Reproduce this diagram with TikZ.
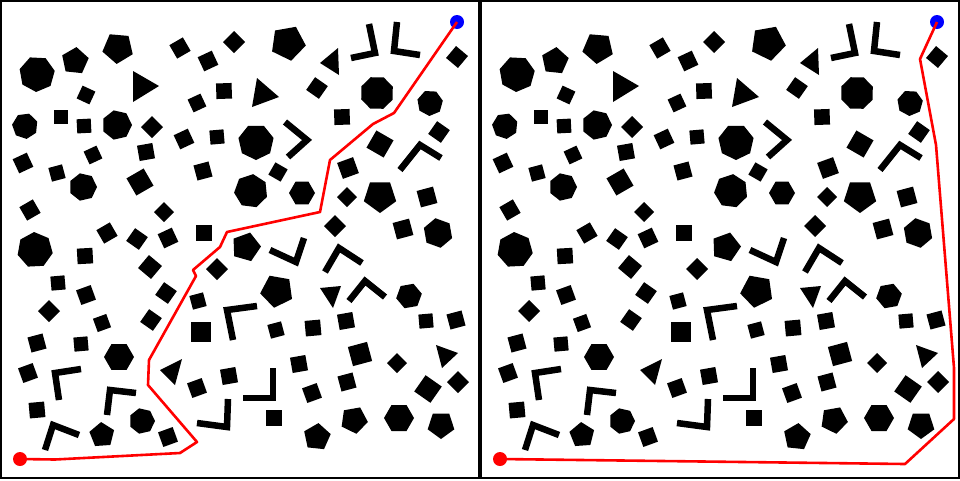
\documentclass[tikz,border=0pt]{standalone}
\usetikzlibrary{calc}
\tikzset{
    obs_fill/.style={fill=black},
    obs_bar/.style={
        draw=black,
        line width=6.5pt,
        line join=miter,
        line cap=butt
    },
    plan_line/.style={
        draw=red,
        line width=2.6pt,
        line join=round
    },
    start_dot/.style={circle, fill=red, inner sep=0pt, minimum size=14pt},
    goal_dot/.style={circle, fill=blue, inner sep=0pt, minimum size=14pt},
    panel_frame/.style={draw=black, line width=1.3pt}
}
% regular polygon: sides, x, y, radius, rotation
\newcommand{\obspoly}[5]{
    \fill[obs_fill, shift={(#2,#3)}, rotate=#5] (0:#4) \foreach \k in {1,...,#1}{ -- ({360/#1*\k}:#4)} -- cycle;
}
\newcommand{\obstri}[3]{\fill[obs_fill] #1 -- #2 -- #3 -- cycle;}
\newcommand{\obsbar}[3]{\draw[obs_bar] #1 -- #2 -- #3;}

\newcommand{\allobstacles}{
    % --- top band ---
    \obspoly{7}{37}{74}{18}{10}
    \obspoly{5}{75}{61}{14}{-60}
    \obspoly{5}{118}{48}{16}{-95}
    \obstri{(133,71)}{(159,86)}{(133,102)}
    \obspoly{4}{86}{95}{10}{20}
    \obspoly{4}{61}{117}{10}{45}
    \obspoly{4}{84}{126}{10}{48}
    \obspoly{7}{117}{125}{15}{0}
    \obspoly{4}{152}{127}{11}{0}
    \obspoly{7}{25}{126}{13}{20}
    \obspoly{4}{180}{48}{11}{75}
    \obspoly{4}{208}{61}{11}{70}
    \obspoly{4}{234}{42}{11}{0}
    \obspoly{5}{288}{43}{18}{-80}
    \obstri{(338,48)}{(320,63)}{(339,75)}
    \obspoly{4}{317}{88}{11}{10}
    \obspoly{4}{224}{91}{11}{47}
    \obstri{(257,78)}{(279,97)}{(252,107)}
    \obspoly{4}{197}{103}{10}{70}
    \obspoly{4}{184}{139}{11}{70}
    \obspoly{4}{217}{137}{10}{50}
    \obspoly{7}{256}{142}{18}{-90}
    \obsbar{(285,122)}{(307,140)}{(288,157)}
    \obspoly{4}{457}{57}{11}{5}
    \obsbar{(369,24)}{(375,53)}{(351,58)}
    \obsbar{(397,22)}{(394,51)}{(420,55)}
    \obspoly{8}{377}{93}{17}{22}
    \obspoly{4}{342}{117}{11}{47}
    \obspoly{7}{430}{103}{13}{10}
    \obspoly{4}{439}{132}{11}{10}
    \obspoly{4}{380}{144}{14}{15}
    \obspoly{4}{348}{168}{12}{65}
    \obsbar{(400,170)}{(420,145)}{(441,158)}
    % --- middle band ---
    \obspoly{4}{23}{163}{11}{70}
    \obspoly{4}{57}{173}{10}{60}
    \obspoly{4}{93}{155}{10}{70}
    \obspoly{4}{146}{152}{11}{55}
    \obspoly{7}{83}{187}{14}{0}
    \obspoly{4}{140}{182}{14}{75}
    \obspoly{4}{30}{210}{11}{75}
    \obspoly{7}{35}{250}{18}{-10}
    \obspoly{4}{107}{233}{11}{75}
    \obspoly{4}{137}{239}{11}{10}
    \obspoly{4}{85}{256}{11}{48}
    \obspoly{4}{150}{267}{12}{5}
    \obspoly{4}{58}{283}{10}{50}
    \obspoly{4}{86}{295}{11}{65}
    \obspoly{4}{49}{311}{11}{0}
    \obspoly{4}{102}{323}{10}{65}
    \obspoly{4}{151}{320}{11}{10}
    \obspoly{4}{164}{212}{10}{0}
    \obspoly{4}{168}{238}{11}{70}
    \obspoly{4}{203}{171}{11}{60}
    \obspoly{4}{278}{172}{10}{15}
    \obspoly{7}{251}{191}{17}{-20}
    \obspoly{6}{302}{193}{13}{0}
    \obspoly{4}{204}{233}{12}{45}
    \obspoly{5}{246}{247}{15}{-70}
    \obsbar{(270,250)}{(296,262)}{(304,238)}
    \obspoly{4}{217}{269}{11}{0}
    \obspoly{5}{277}{291}{17}{-100}
    \obspoly{4}{166}{293}{11}{10}
    \obspoly{4}{198}{301}{10}{60}
    \obsbar{(233,340)}{(227,310)}{(257,306)}
    \obspoly{5}{380}{196}{17}{-90}
    \obspoly{4}{347}{197}{10}{0}
    \obspoly{4}{427}{197}{12}{60}
    \obspoly{4}{335}{226}{11}{0}
    \obspoly{4}{403}{229}{12}{60}
    \obspoly{6}{438}{233}{15}{-20}
    \obsbar{(325,272)}{(339,248)}{(362,263)}
    \obstri{(320,288)}{(341,286)}{(333,308)}
    \obsbar{(349,301)}{(365,281)}{(385,297)}
    \obspoly{6}{409}{296}{13}{10}
    % --- bottom band ---
    \obspoly{4}{346}{321}{11}{55}
    \obspoly{4}{426}{321}{10}{50}
    \obspoly{4}{456}{320}{11}{60}
    \obspoly{4}{37}{343}{11}{60}
    \obspoly{4}{81}{344}{10}{50}
    \obspoly{6}{119}{357}{15}{0}
    \obspoly{4}{28}{373}{11}{65}
    \obsbar{(59,400)}{(55,373)}{(81,369)}
    \obsbar{(107,415)}{(110,390)}{(136,393)}
    \obspoly{4}{37}{410}{11}{50}
    \obsbar{(45,450)}{(53,425)}{(79,435)}
    \obspoly{5}{102}{435}{13}{-50}
    \obspoly{7}{142}{421}{13}{0}
    \obspoly{4}{201}{332}{14}{45}
    \obspoly{4}{276}{330}{10}{60}
    \obspoly{4}{313}{328}{11}{50}
    \obstri{(160,370)}{(182,359)}{(175,385)}
    \obspoly{4}{197}{388}{11}{65}
    \obspoly{4}{229}{376}{11}{55}
    \obsbar{(273,368)}{(273,398)}{(243,398)}
    \obspoly{4}{299}{364}{11}{55}
    \obsbar{(197,423)}{(227,427)}{(228,399)}
    \obspoly{4}{274}{418}{12}{45}
    \obspoly{4}{312}{393}{11}{65}
    \obspoly{5}{317}{437}{14}{-60}
    \obspoly{4}{168}{437}{11}{65}
    \obspoly{4}{360}{354}{14}{60}
    \obspoly{4}{397}{363}{10}{0}
    \obstri{(436,345)}{(458,353)}{(442,368)}
    \obspoly{4}{347}{382}{11}{60}
    \obspoly{4}{428}{389}{14}{10}
    \obspoly{4}{458}{382}{11}{0}
    \obspoly{5}{354}{420}{14}{-80}
    \obspoly{6}{399}{418}{15}{0}
    \obspoly{5}{441}{425}{14}{-90}
}

\begin{document}
\begin{tikzpicture}[x=1pt, y=-1pt]
\useasboundingbox (0,0) rectangle (960,480);

% --- panels ---
\draw[panel_frame] (1,1) rectangle (479,478);
\draw[panel_frame] (481,1) rectangle (959,478);

% --- obstacles, same field twice ---
\allobstacles
\begin{scope}[shift={(480,0)}]
    \allobstacles
\end{scope}

% --- left panel: start, goal, route ---
\node[start_dot] (startL) at (20,459) {};
\node[goal_dot] (goalL) at (457,22) {};
\draw[plan_line] (startL.center) -- (55,459.5) -- (180,453) -- (197,442) -- (148,385)
    -- (149,360) -- (196,276) -- (193,270) -- (220,247) -- (227,232) -- (320,212)
    -- (330,160) -- (373,124) -- (394,113) -- (goalL.center);

% --- right panel: start, goal, route ---
\node[start_dot] (startR) at (500,459) {};
\node[goal_dot] (goalR) at (937,22) {};
\draw[plan_line] (startR.center) -- (905,464) -- (954,419) -- (954,368) -- (936,145)
    -- (920,59) -- (goalR.center);

\end{tikzpicture}
\end{document}
